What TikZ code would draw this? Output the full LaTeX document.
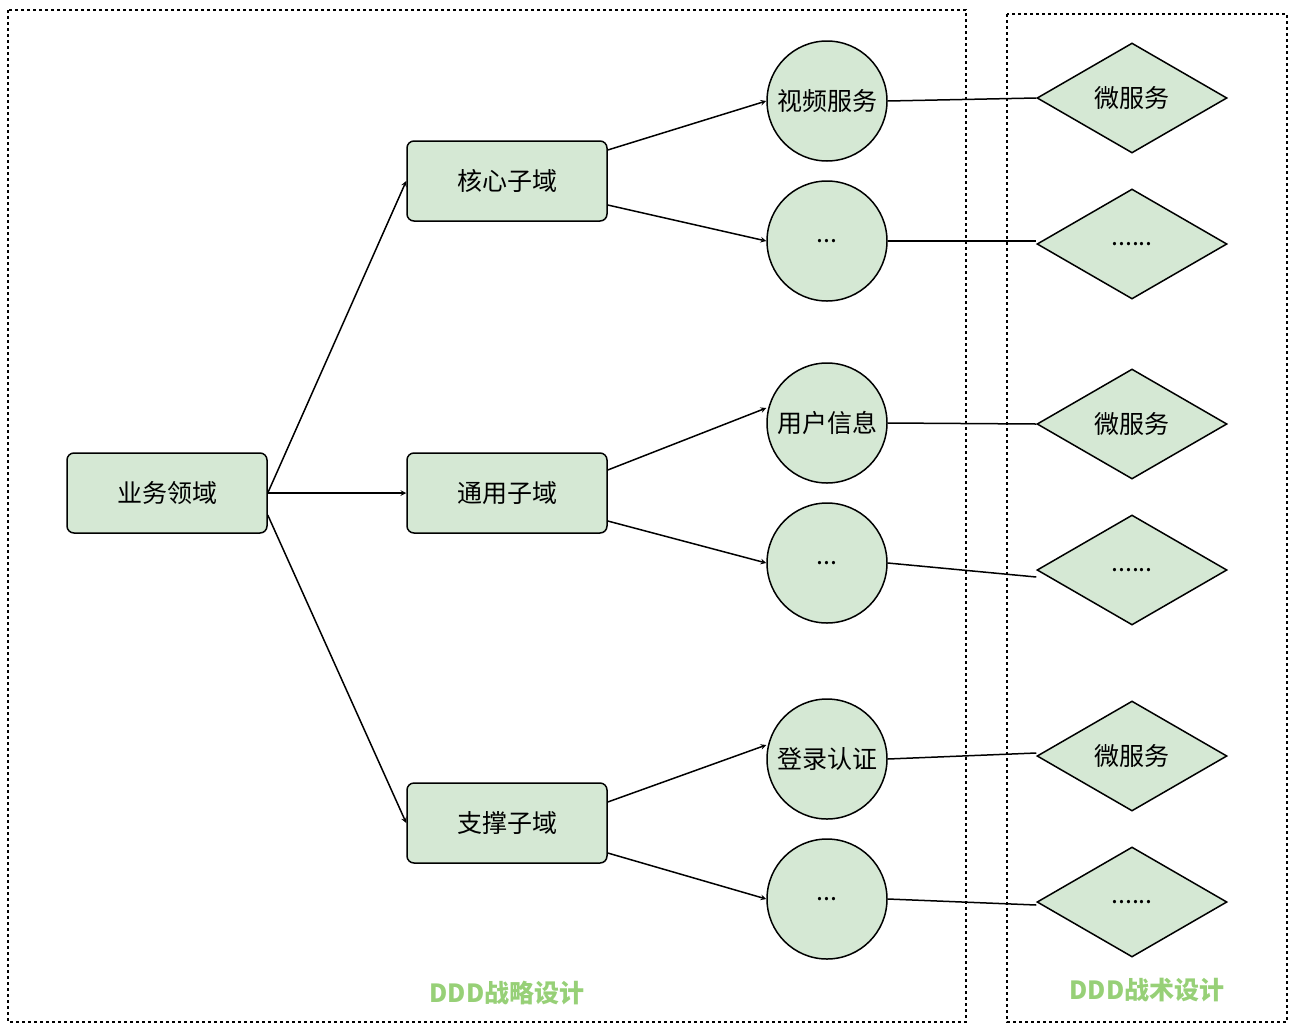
\documentclass[tikz,border=0pt]{standalone}
\usepackage{fontspec}
\setmainfont{Noto Sans CJK SC}
\usetikzlibrary{shapes.geometric}
\definecolor{gg}{RGB}{213, 232, 212}
\definecolor{lbl}{RGB}{151, 208, 119}

\begin{document}
\begin{tikzpicture}[x=1pt, y=-1pt, >=stealth,
  every node/.style={font=\fontsize{25}{30}\selectfont},
  dom/.style={rectangle, rounded corners=7pt, minimum width=200pt, minimum height=80pt, fill=gg, draw=black, line width=1.5pt},
  sub/.style={circle, minimum size=120pt, inner sep=0pt, fill=gg, draw=black, line width=1.5pt},
  svc/.style={diamond, minimum width=190pt, minimum height=110pt, inner sep=0pt, fill=gg, draw=black, line width=1.5pt},
  box/.style={dashed, line width=1.3pt},
  link/.style={line width=1.5pt}]
\useasboundingbox (0,0) rectangle (1298,1034);
\draw [box] (8,10) rectangle (966,1022);
\draw [box] (1007,14) rectangle (1287,1022);
\node (1) [dom] at (167,493) {业务领域};
\node (2) [dom] at (507,181) {核心子域};
\node (3) [dom] at (507,493) {通用子域};
\node (4) [dom] at (507,823) {支撑子域};
\node (5) [sub] at (827,101) {视频服务};
\node (6) [sub] at (827,241) {...};
\node (7) [sub] at (827,423) {用户信息};
\node (8) [sub] at (827,563) {...};
\node (9) [sub] at (827,759) {登录认证};
\node (10) [sub] at (827,899) {...};
\node (11) [svc] at (1132,98) {微服务};
\node (12) [svc] at (1132,244) {......};
\node (13) [svc] at (1132,424) {微服务};
\node (14) [svc] at (1132,570) {......};
\node (15) [svc] at (1132,756) {微服务};
\node (16) [svc] at (1132,902) {......};
\draw [link, ->] (1.east) to (2.west);
\draw [link, ->] (1.east) to (3.west);
\draw [link, ->] ([yshift=-22pt]1.east) to (4.west);
\draw [link, ->] ([yshift=31pt]2.east) to (5.west);
\draw [link, ->] ([yshift=-24pt]2.east) to (6.west);
\draw [link, ->] ([yshift=23pt]3.east) to ([yshift=15pt]7.west);
\draw [link, ->] ([yshift=-28pt]3.east) to (8.west);
\draw [link, ->] ([yshift=21pt]4.east) to ([yshift=14pt]9.west);
\draw [link, ->] ([yshift=-30pt]4.east) to (10.west);
\draw [link] (5.east) to (11.west);
\draw [link] (6.east) to ([yshift=3pt]12.west);
\draw [link] (7.east) to (13.west);
\draw [link] (8.east) to ([yshift=-7pt]14.west);
\draw [link] (9.east) to ([yshift=3pt]15.west);
\draw [link] (10.east) to ([yshift=-3pt]16.west);
\node (17) [text=lbl, font=\fontsize{25}{30}\selectfont\bfseries] at (507,993) {DDD战略设计};
\node (18) [text=lbl, font=\fontsize{25}{30}\selectfont\bfseries] at (1147,990) {DDD战术设计};
\end{tikzpicture}
\end{document}
